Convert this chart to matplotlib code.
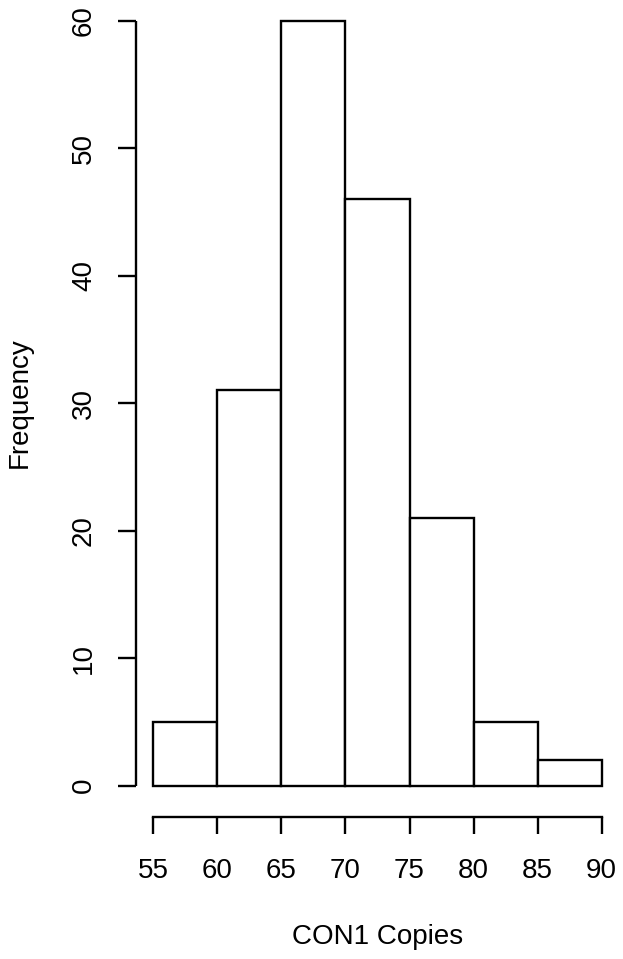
import matplotlib
matplotlib.use("Agg")
import matplotlib.pyplot as plt
import numpy as np

bin_edges = [55, 60, 65, 70, 75, 80, 85, 90]
counts = [5, 31, 60, 46, 21, 5, 2]
x_ticks = [55, 60, 65, 70, 75, 80, 85, 90]
y_ticks = [0, 10, 20, 30, 40, 50, 60]
xlabel = "CON1 Copies"
ylabel = "Frequency"

plt.rcParams['font.family'] = ['Liberation Sans', 'DejaVu Sans']

W, H = 623, 959
fig = plt.figure(figsize=(W / 100, H / 100), dpi=100)
x0, x1 = 153.3, 601.7
ytop, ybot = 20.5, 785.7
ax = fig.add_axes([x0 / W, (H - ybot) / H, (x1 - x0) / W, (ybot - ytop) / H])
ax.set_xlim(55, 90)
ax.set_ylim(0, 60)

lw = 1.7
widths = np.diff(bin_edges)
ax.bar(bin_edges[:-1], counts, width=widths, align='edge', facecolor='white',
       edgecolor='black', linewidth=lw, clip_on=False)

for s in ['top', 'right']:
    ax.spines[s].set_visible(False)
ax.spines['left'].set_position(('outward', 12.5))
ax.spines['bottom'].set_position(('outward', 22.8))
ax.spines['left'].set_linewidth(lw)
ax.spines['bottom'].set_linewidth(lw)
ax.spines['left'].set_capstyle('butt')

ax.set_xticks(x_ticks)
ax.set_yticks(y_ticks)
ax.tick_params(axis='x', length=12.2, width=lw, pad=17, labelsize=20)
ax.tick_params(axis='y', length=13, width=lw, pad=15, labelsize=20)
for lab in ax.get_yticklabels():
    lab.set_rotation(90)
    lab.set_va('center')

fig.text(378 / W, 1 - 937 / H, xlabel, ha='center', va='center', fontsize=20)
fig.text(20 / W, 1 - 403 / H, ylabel, ha='center', va='center', fontsize=20, rotation=90)

fig.savefig("out.png", dpi=100, facecolor='white')
